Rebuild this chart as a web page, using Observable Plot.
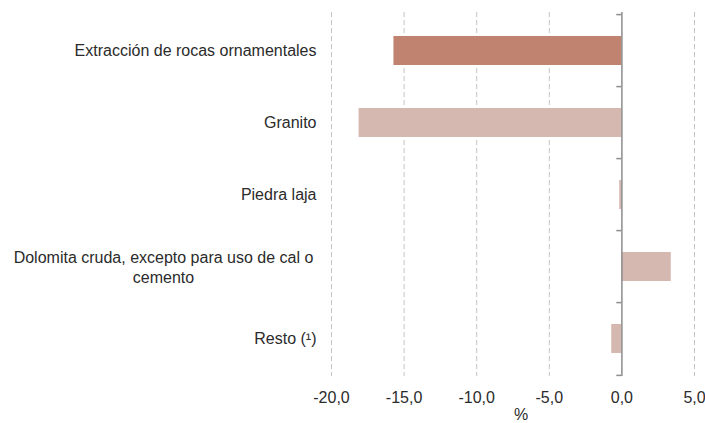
<!DOCTYPE html>
<html>
<head>
<meta charset="utf-8">
<script src="https://cdn.jsdelivr.net/npm/d3@7"></script>
<script src="https://cdn.jsdelivr.net/npm/@observablehq/plot@0.6"></script>
<style>
  html, body { margin: 0; padding: 0; background: #fff; }
  #chart { width: 705px; height: 423px; }
</style>
</head>
<body>
<div id="chart"></div>
<script>
const categories = [
  "Extracción de rocas ornamentales",
  "Granito",
  "Piedra laja",
  "Dolomita cruda, excepto para uso de cal o cemento",
  "Resto (¹)"
];
const values = [-15.7, -18.1, -0.15, 3.4, -0.7];
const highlighted = [true, false, false, false, false];
const xTicks = [-20, -15, -10, -5, 0, 5];
const xTickLabels = ["-20,0", "-15,0", "-10,0", "-5,0", "0,0", "5,0"];
const wrappedCategory = "Dolomita cruda, excepto para uso de cal o cemento";
const wrappedText = "Dolomita cruda, excepto para uso de cal o\ncemento";
const xLabel = "%";

const data = categories.map((c, i) => ({cat: c, value: values[i], hi: highlighted[i]}));
const step = (376 - 12) / categories.length;

const chart = Plot.plot({
  width: 705,
  height: 423,
  marginLeft: 331,
  marginRight: 11,
  marginTop: 12,
  marginBottom: 47,
  style: {fontFamily: "'Liberation Sans', Arial, sans-serif", fontSize: "16px", color: "#2b2b2b", background: "#fff"},
  x: {domain: [-20, 5], ticks: xTicks},
  y: {domain: categories, paddingInner: 0.6, paddingOuter: 0.3},
  marks: [
    Plot.ruleX(xTicks.filter(d => d !== 0), {stroke: "#c4c4c4", strokeWidth: 1, strokeDasharray: "5,3"}),
    Plot.barX(data, {y: "cat", x: "value", fill: d => d.hi ? "#C0836F" : "#D5B8AF"}),
    Plot.ruleX([0], {stroke: "#8c8c8c", strokeWidth: 1.5}),
    Plot.ruleY(categories, {y: d => d, x1: -0.35, x2: 0, dy: -step / 2, stroke: "#8c8c8c", strokeWidth: 1.5}),
    Plot.ruleY([categories[categories.length - 1]], {y: d => d, x1: -0.35, x2: 0, dy: step / 2, stroke: "#8c8c8c", strokeWidth: 1.5}),
    Plot.axisY({
      tickSize: 0, tickPadding: 15, label: null, fontSize: 16,
      tickFormat: d => d === wrappedCategory ? "" : d
    }),
    Plot.text([wrappedCategory], {
      y: d => d, text: () => wrappedText, frameAnchor: "left", dx: -168,
      textAnchor: "middle", lineAnchor: "middle", fontSize: 16, fill: "#2b2b2b", lineHeight: 1.25
    }),
    Plot.axisX({
      ticks: xTicks, tickSize: 0, tickPadding: 15, fontSize: 16,
      tickFormat: d => xTickLabels[xTicks.indexOf(d)],
      label: null
    }),
    Plot.text([xLabel], {
      text: d => d, frameAnchor: "bottom", dx: 8, dy: 43, fontSize: 16, fill: "#2b2b2b"
    })
  ]
});
document.getElementById("chart").appendChild(chart);
</script>
</body>
</html>
